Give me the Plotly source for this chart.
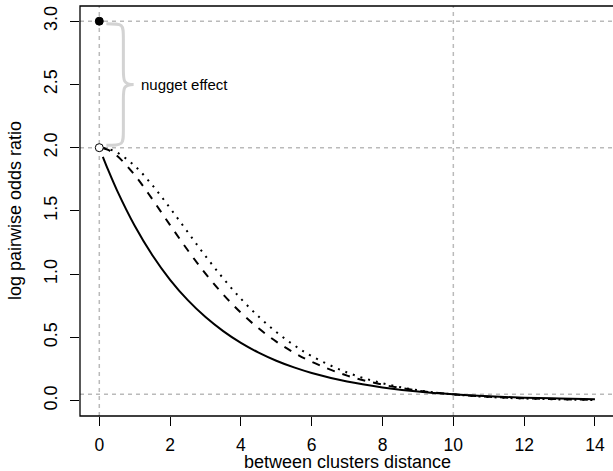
import plotly.graph_objects as go

# ---- data ----
dist = [0.1, 0.25, 0.5, 1, 1.5, 2, 2.5, 3, 3.5, 4, 4.5, 5, 5.5, 6, 7, 8, 9, 10, 11, 12, 13, 14]
exp_curve = [1.928, 1.824, 1.663, 1.383, 1.150, 0.956, 0.795, 0.661, 0.550, 0.457, 0.380, 0.316,
             0.263, 0.219, 0.151, 0.105, 0.072, 0.050, 0.035, 0.024, 0.017, 0.011]
dash_curve = [1.997, 1.982, 1.936, 1.784, 1.592, 1.388, 1.189, 1.004, 0.840, 0.695, 0.572, 0.467,
              0.380, 0.307, 0.198, 0.127, 0.080, 0.050, 0.031, 0.019, 0.012, 0.007]
dot_curve = [1.998, 1.990, 1.962, 1.857, 1.703, 1.522, 1.332, 1.143, 0.967, 0.806, 0.665, 0.543,
             0.439, 0.352, 0.223, 0.138, 0.083, 0.050, 0.029, 0.017, 0.010, 0.006]
nugget_x = [0]
nugget_y = [3.0]
sill_x = [0]
sill_y = [2.0]
hlines = [3.0, 2.0, 0.05]
vlines = [0, 10]
xticks = [0, 2, 4, 6, 8, 10, 12, 14]
yticks = [0.0, 0.5, 1.0, 1.5, 2.0, 2.5, 3.0]
ytick_text = ["0.0", "0.5", "1.0", "1.5", "2.0", "2.5", "3.0"]

FONT = "Liberation Sans, Arial, sans-serif"
GRID = "#bababa"

fig = go.Figure()

# reference lines
for h in hlines:
    fig.add_shape(type="line", xref="paper", yref="y", x0=0, x1=1, y0=h, y1=h,
                  line=dict(color=GRID, width=1.5, dash="4px,4px"), layer="below")
for v in vlines:
    fig.add_shape(type="line", xref="x", yref="paper", x0=v, x1=v, y0=0, y1=1,
                  line=dict(color=GRID, width=1.5, dash="4px,4px"), layer="below")

# curves
fig.add_trace(go.Scatter(x=dist, y=exp_curve, mode="lines", line=dict(color="black", width=2, shape="spline"),
                         showlegend=False, hoverinfo="skip"))
fig.add_trace(go.Scatter(x=dist, y=dash_curve, mode="lines",
                         line=dict(color="black", width=2, dash="8px,8px", shape="spline"),
                         showlegend=False, hoverinfo="skip"))
fig.add_trace(go.Scatter(x=dist, y=dot_curve, mode="lines",
                         line=dict(color="black", width=2, dash="2px,6px", shape="spline"),
                         showlegend=False, hoverinfo="skip"))

# points
fig.add_trace(go.Scatter(x=nugget_x, y=nugget_y, mode="markers",
                         marker=dict(color="black", size=8, line=dict(color="black", width=1)),
                         showlegend=False, hoverinfo="skip"))
fig.add_trace(go.Scatter(x=sill_x, y=sill_y, mode="markers",
                         marker=dict(color="white", size=8, line=dict(color="black", width=1)),
                         showlegend=False, hoverinfo="skip"))

# curly brace between sill and nugget
yt = nugget_y[0] - 0.02
yb = sill_y[0] + 0.02
ym = (nugget_y[0] + sill_y[0]) / 2
x0, xb, xt = 0.2, 0.68, 0.97
path = (f"M {x0},{yt} C {xb},{yt} {xb},{yt} {xb},{yt-0.12} "
        f"L {xb},{ym+0.12} C {xb},{ym+0.03} {xb},{ym} {xt},{ym} "
        f"C {xb},{ym} {xb},{ym-0.03} {xb},{ym-0.12} "
        f"L {xb},{yb+0.12} C {xb},{yb} {xb},{yb} {x0},{yb}")
fig.add_shape(type="path", path=path, xref="x", yref="y",
              line=dict(color="#d3d3d3", width=3))
fig.add_annotation(x=1.12, y=ym, xref="x", yref="y", text="nugget effect", showarrow=False,
                   xanchor="left", yanchor="middle", font=dict(size=15, color="black", family=FONT))

# axis titles
fig.add_annotation(x=0.501, y=0, xref="paper", yref="paper", yshift=-46, text="between clusters distance",
                   showarrow=False, xanchor="center", yanchor="middle", font=dict(size=18, family=FONT))
fig.add_annotation(x=0, y=0.5, xref="paper", yref="paper", xshift=-65, text="log pairwise odds ratio",
                   textangle=-90, showarrow=False, xanchor="center", yanchor="middle",
                   font=dict(size=18, family=FONT))

# box
fig.add_shape(type="rect", xref="paper", yref="paper", x0=0, x1=1.05, y0=0, y1=1,
              line=dict(color="black", width=1.3), fillcolor="rgba(0,0,0,0)")

fig.update_layout(
    width=613, height=471,
    margin=dict(l=80, r=0, t=6, b=55),
    paper_bgcolor="white", plot_bgcolor="white",
    font=dict(family=FONT, size=18, color="black"),
    xaxis=dict(range=[-0.545, 14.51], tickvals=xticks, ticks="outside", ticklen=9, tickwidth=1.3,
               tickcolor="black", showgrid=False, zeroline=False, showline=False,
               tickfont=dict(size=17.5), ticklabelstandoff=4, automargin=False),
    yaxis=dict(range=[-0.121, 3.12], tickvals=yticks, ticktext=ytick_text, ticks="outside", ticklen=9,
               tickwidth=1.3, tickcolor="black", showgrid=False, zeroline=False, showline=False,
               tickangle=-90, ticklabelstandoff=6, automargin=False),
)

fig.write_html("out.html", config={"displayModeBar": False},
               post_script="document.body.style.margin='0';document.body.style.overflow='hidden';")
